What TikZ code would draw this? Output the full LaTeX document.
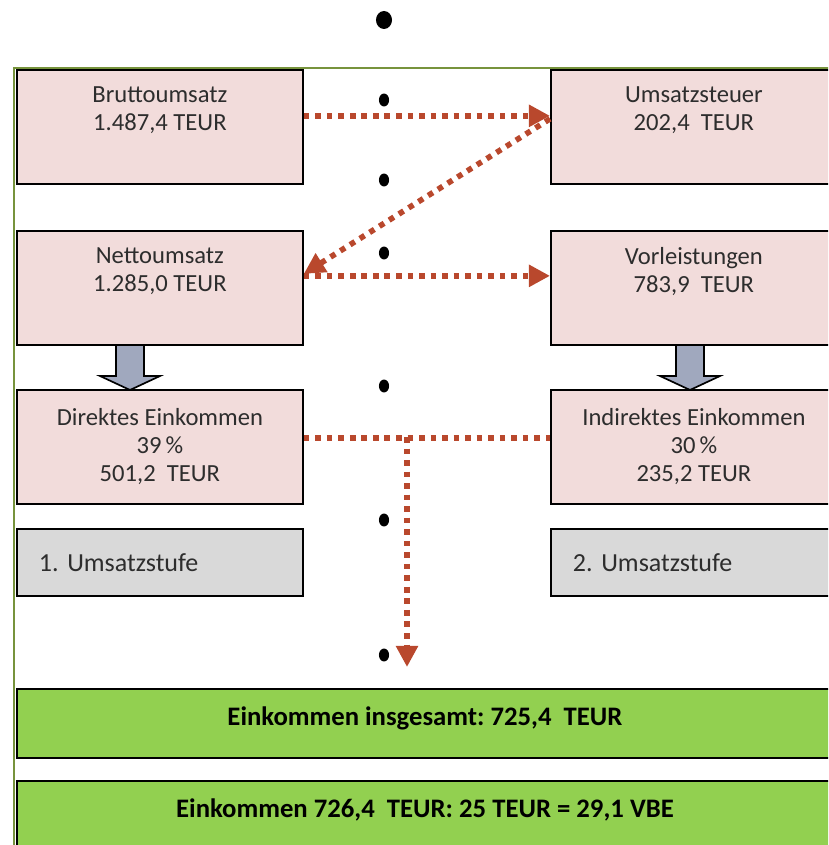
\documentclass[tikz,border=0pt]{standalone}
\usepackage{fontspec}
\setmainfont{Carlito}
\usetikzlibrary{arrows.meta}
\definecolor{boxrosa}{RGB}{242,220,219}
\definecolor{boxgrau}{RGB}{217,217,217}
\definecolor{balkengruen}{RGB}{146,208,80}
\definecolor{pfeilrot}{RGB}{185,72,45}
\definecolor{rahmengruen}{RGB}{119,147,60}
\definecolor{blockgrau}{RGB}{160,168,190}
\definecolor{textgrau}{RGB}{45,45,45}
\frenchspacing
\begin{document}
\begin{tikzpicture}[x=0.025cm, y=-0.025cm,
  posten/.style={draw, line width=1.2pt, anchor=north west, minimum width=7.15cm, minimum height=2.85cm,
    fill=boxrosa, align=center, text=textgrau, font=\fontsize{17.5}{20}\selectfont},
  stufe/.style={draw, line width=1.2pt, anchor=north west, minimum width=7.15cm, minimum height=1.675cm,
    fill=boxgrau, text width=6.05cm, inner xsep=0.55cm, align=left, text=textgrau, font=\fontsize{18.5}{22}\selectfont},
  balken/.style={draw, line width=1.2pt, anchor=north west, minimum width=20.4cm, minimum height=1.725cm,
    fill=balkengruen, text depth=10pt, font=\fontsize{19}{22}\selectfont\bfseries},
  fluss/.style={draw=pfeilrot, line width=4pt, dash pattern=on 4pt off 4.2pt},
  spitze/.style={-{Triangle[length=15pt, width=15pt]}, pfeilrot},
  block/.style={draw, line width=1.2pt, fill=blockgrau}]
\clip (0,0) rectangle (828,845);
\draw[rahmengruen, line width=1.1pt] (14,870) -- (14,68) -- (860,68);
\node[posten] (brutto) at (16,69) {Bruttoumsatz\\1.487,4 TEUR\\\strut};
\node[posten] (umst) at (550,69) {Umsatzsteuer\\202,4\ \ TEUR\\\strut};
\node[posten] (netto) at (16,230) {Nettoumsatz\\1.285,0 TEUR\\\strut};
\node[posten] (vorl) at (550,230) {Vorleistungen\\783,9\ \ TEUR\\\strut};
\node[posten] (direkt) at (16,389) {Direktes Einkommen\\39\,\%\\501,2\ \ TEUR};
\node[posten] (indirekt) at (550,389) {Indirektes Einkommen\\30\,\%\\235,2 TEUR};
\node[stufe] (stufe1) at (16,528) {1. Umsatzstufe};
\node[stufe] (stufe2) at (550,528) {2. Umsatzstufe};
\node[balken] (gesamt) at (16,688) {Einkommen insgesamt: 725,4\ \ TEUR};
\node[balken] (vbe) at (16,780) {Einkommen 726,4\ \ TEUR: 25 TEUR = 29,1 VBE};
\foreach \x in {130,690} {
  \draw[block] (\x-14,345) -- (\x+14,345) -- (\x+14,376) -- (\x+30,376) -- (\x,390)
    -- (\x-30,376) -- (\x-14,376) -- cycle;
}
\fill (384,20) circle[x radius=5.7pt, y radius=6.4pt];
\foreach \y in {100,180,253,386,520,655} {
  \fill (384,\y) circle[x radius=3.6pt, y radius=4.6pt];
}
\draw[fluss, spitze] ([yshift=0.275cm]brutto.east) -- ([yshift=0.275cm]umst.west);
\draw[fluss, spitze] ([yshift=0.2cm]umst.west) -- ([yshift=0.35cm]netto.east);
\draw[fluss, spitze] ([yshift=0.3cm]netto.east) -- ([yshift=0.3cm]vorl.west);
\draw[fluss] ([yshift=0.225cm]direkt.east) -- ([yshift=0.225cm]indirekt.west);
\coordinate (abzweig) at (407,437);
\coordinate (ziel) at (407,667);
\draw[fluss, spitze] (abzweig) -- (ziel);
\end{tikzpicture}
\end{document}
